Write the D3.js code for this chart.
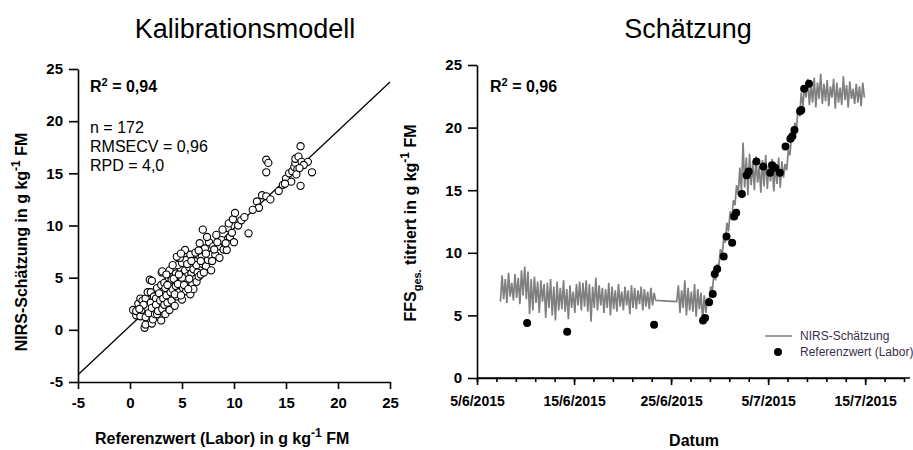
<!DOCTYPE html>
<html lang="de">
<head>
    <meta charset="UTF-8">
    <title>Kalibrationsmodell und Schätzung</title>
    <script src="https://d3js.org/d3.v7.min.js"></script>
    <style>
        body { margin: 0; background: #fff; }
        svg { display: block; font-family: "Liberation Sans", Arial, sans-serif; }
        .title { font-size: 27px; text-anchor: middle; fill: #000; }
        .axis path, .axis line { stroke: #000; stroke-width: 1.6px; }
        .axis text { font-size: 15px; font-weight: bold; fill: #000; font-family: "Liberation Sans", Arial, sans-serif; }
        .alabel { font-size: 16px; font-weight: bold; fill: #000; }
        .note { font-size: 16px; fill: #000; }
        .legend { font-size: 12px; fill: #3b3049; }
    </style>
</head>
<body>
<svg width="913" height="450"></svg>
<script>
    // --- Kalibrationsmodell: Referenzwert (Labor) vs. NIRS-Schätzung, n = 172
    const refX = [
        0.3,0.6,0.6,0.8,1.0,1.0,1.1,1.2,1.4,1.5,1.5,1.5,1.6,1.7,1.8,1.9,2.0,2.0,2.1,2.1,
        2.1,2.2,2.3,2.4,2.5,2.5,2.6,2.6,2.7,2.8,2.9,3.0,3.0,3.05,3.1,3.1,3.2,3.3,3.3,3.4,
        3.4,3.5,3.6,3.7,3.8,3.9,4.0,4.0,1.3,0.9,
        4.1,4.2,4.3,4.4,4.4,4.5,4.6,4.7,4.8,4.9,5.0,5.0,5.1,5.2,5.3,5.3,5.4,5.4,5.5,5.6,
        5.7,5.8,5.9,6.0,6.0,6.1,6.2,6.3,6.4,6.5,4.2,4.6,4.8,5.0,5.2,5.5,5.7,5.8,6.1,6.4,
        4.3,4.9,5.6,3.6,3.8,4.5,4.7,5.9,6.3,6.6,3.5,4.1,4.9,
        6.7,6.8,6.9,7.0,7.0,7.2,7.3,7.5,7.6,7.7,7.8,8.0,8.2,8.3,8.5,8.6,8.8,9.0,9.3,9.4,
        9.5,9.6,9.8,10.0,6.8,7.1,7.4,7.9,8.1,8.9,9.2,6.6,7.3,8.4,9.9,
        10.1,10.4,10.7,11.0,11.4,12.2,12.4,12.7,13.1,13.5,13.1,13.1,13.3,11.8,
        14.3,14.7,15.0,15.3,15.6,15.8,15.9,15.9,16.1,16.2,16.4,16.4,16.5,17.1,17.5,16.0,15.5,16.7,14.9,16.3
    ];
    const nirsY = [
        1.9,1.4,1.8,2.5,1.3,3.0,1.9,2.8,0.2,0.5,3.0,1.2,2.2,3.6,1.6,4.8,3.6,2.6,0.6,2.1,
        4.7,1.0,3.2,1.5,3.0,2.4,1.5,4.0,1.8,3.5,2.8,0.9,4.3,5.5,5.6,2.0,3.0,2.4,4.5,1.5,
        4.0,3.3,2.6,5.0,1.9,3.6,2.8,4.8,2.4,2.0,
        3.9,5.8,2.3,4.2,5.4,3.2,6.2,3.6,4.6,5.1,2.9,6.4,4.0,5.5,5.7,7.65,3.7,6.7,4.7,5.2,
        6.0,3.4,5.4,4.4,7.0,5.8,6.6,4.9,6.2,5.5,4.9,4.4,6.9,5.0,4.3,6.3,4.9,7.2,3.9,4.6,
        3.4,3.3,3.9,4.3,5.7,7.0,5.3,6.6,7.4,5.1,5.3,6.2,7.3,
        8.3,5.3,7.0,9.6,6.3,7.8,6.1,6.7,8.4,7.2,5.7,8.0,7.2,9.1,8.0,6.9,8.6,7.7,7.65,9.75,
        10.2,8.9,9.3,8.4,6.6,5.5,8.9,6.6,7.7,9.6,8.3,7.6,7.3,8.4,10.6,
        11.2,10.0,10.5,10.8,9.25,12.3,11.7,12.9,12.8,12.5,16.3,15.1,16.0,11.5,
        13.3,13.9,14.5,15.0,15.2,15.6,16.0,16.4,15.4,16.6,17.6,13.8,16.1,16.1,15.1,14.9,14.2,15.8,14.0,15.5
    ];
    // Regressionsgerade (Endpunkte)
    const fitX = [-5, 25];
    const fitY = [-4.3, 23.75];
    const leftTicks = [-5, 0, 5, 10, 15, 20, 25];

    // --- Schätzung: NIRS-Zeitreihe (4-h-Werte) und Referenzwerte
    const nirsStart1 = "2015-06-07T10:00";
    const nirsVals1 = [
        6.1,8.2,6.3,7.9,6.0,8.4,6.5,7.6,6.2,8.3,
        6.4,8.0,5.9,8.6,6.6,8.9,6.3,8.5,5.1,
        7.9,5.4,8.1,6.0,7.7,5.2,7.8,6.1,7.5,
        4.8,7.6,5.6,7.9,5.0,7.3,4.6,7.7,5.4,7.2,5.5,7.8,
        5.3,7.1,4.7,7.4,5.6,6.9,5.2,7.5,5.8,7.7,5.4,7.6,
        5.7,7.8,5.3,7.5,4.5,7.3,5.6,8.0,5.4,7.4,5.8,7.2,
        5.2,7.1,5.6,7.6,5.0,7.3,5.5,7.0,5.3,7.5,5.7,6.9,
        5.4,7.3,5.8,7.0,5.1,7.4,5.6,7.2,5.5,7.0,5.9,7.3,
        5.4,7.1,5.7,6.9,5.5,7.2,5.8,6.8,6.2
    ];
    const nirsStart2 = "2015-06-25T14:00";
    const nirsVals2 = [
        6.1,7.4,5.2,7.0,5.6,7.8,5.0,7.2,5.4,6.9,5.3,7.5,4.9,7.1,5.5,6.8,4.6,6.6,
        5.2,6.4,6.0,7.3,6.9,8.4,7.8,9.1,8.9,10.3,9.6,11.2,10.8,12.4,11.7,13.3,12.6,14.2,13.8,15.4,14.6,
        16.8,14.9,18.8,15.2,17.6,14.6,17.9,15.4,17.3,15.0,17.7,15.6,16.9,14.8,17.4,15.3,17.8,15.1,17.2,15.7,
        17.5,14.9,17.0,15.5,17.6,15.2,17.3,16.0,17.1,
        16.6,18.2,17.8,19.5,18.9,20.4,19.8,21.6,20.9,22.8,21.7,23.2,22.4,
        23.9,21.8,23.4,22.0,24.0,21.6,23.6,22.3,24.3,21.9,23.5,22.1,23.8,21.7,23.3,22.4,23.9,21.5,
        23.6,22.0,23.2,21.8,24.1,22.2,23.4,21.6,23.7,22.3,23.1,21.9,23.5,22.0,23.3,21.7,23.6,22.4
    ];
    const labDates = [
        "2015-06-10T04:00","2015-06-14T07:00","2015-06-23T06:00",
        "2015-06-28T07:00","2015-06-28T12:00","2015-06-28T22:00","2015-06-29T07:00","2015-06-29T12:00",
        "2015-06-29T18:00","2015-06-30T10:00","2015-06-30T17:00","2015-07-01T07:00","2015-07-01T12:00",
        "2015-07-01T17:00","2015-07-02T07:00","2015-07-02T19:00","2015-07-03T00:00","2015-07-03T19:00",
        "2015-07-04T12:00","2015-07-05T05:00","2015-07-05T10:00","2015-07-05T17:00","2015-07-06T05:00",
        "2015-07-06T19:00","2015-07-07T07:00","2015-07-07T12:00","2015-07-07T17:00","2015-07-08T07:00",
        "2015-07-08T10:00","2015-07-08T17:00","2015-07-09T05:00"
    ];
    const labVals = [
        4.4,3.7,4.25,
        4.6,4.8,6.05,6.7,8.3,
        8.7,9.7,11.3,10.8,12.9,
        13.2,14.7,16.2,16.5,17.3,
        16.9,16.4,17.0,16.8,16.4,
        18.5,19.1,19.3,19.8,21.3,
        21.4,23.1,23.5
    ];
    const rightTicks = [0, 5, 10, 15, 20, 25];

    const svg = d3.select("svg");
    const parse = d3.timeParse("%Y-%m-%dT%H:%M");
    const H4 = 4 * 3600 * 1000;
    const plain = d => String(d);   // Bindestrich statt Minuszeichen

    // ================= linkes Diagramm =================
    const xL = d3.scaleLinear().domain([-5, 25]).range([78, 390]);
    const yL = d3.scaleLinear().domain([-5, 25]).range([382, 69]);

    svg.append("text").attr("class", "title").attr("x", 245).attr("y", 38).text("Kalibrationsmodell");

    svg.append("g").attr("class", "axis").attr("transform", "translate(0,382)")
        .call(d3.axisBottom(xL).tickValues(leftTicks).tickFormat(plain).tickSize(7).tickSizeOuter(0).tickPadding(8));
    svg.append("g").attr("class", "axis").attr("transform", "translate(78,0)")
        .call(d3.axisLeft(yL).tickValues(leftTicks).tickFormat(plain).tickSize(9).tickSizeOuter(0).tickPadding(6));

    svg.append("line")
        .attr("x1", xL(fitX[0])).attr("y1", yL(fitY[0]))
        .attr("x2", xL(fitX[1])).attr("y2", yL(fitY[1]))
        .attr("stroke", "#000").attr("stroke-width", 1.3);

    svg.append("g").selectAll("circle")
        .data(refX.map((x, i) => [x, nirsY[i]]))
        .join("circle")
        .attr("cx", d => xL(d[0])).attr("cy", d => yL(d[1]))
        .attr("r", 3.6).attr("fill", "#fff").attr("stroke", "#000").attr("stroke-width", 1.1);

    const r2L = svg.append("text").attr("class", "alabel").attr("x", 90).attr("y", 92);
    r2L.append("tspan").text("R");
    r2L.append("tspan").attr("dy", -6).attr("font-size", 11).text("2");
    r2L.append("tspan").attr("dy", 6).text(" = 0,94");

    ["n = 172", "RMSECV = 0,96", "RPD = 4,0"].forEach((t, i) => {
        svg.append("text").attr("class", "note").attr("x", 90).attr("y", 133 + i * 19).text(t);
    });

    const xlab = svg.append("text").attr("class", "alabel").attr("x", 95).attr("y", 444);
    xlab.append("tspan").text("Referenzwert (Labor) in g kg");
    xlab.append("tspan").attr("dy", -7).attr("font-size", 12).text("-1");
    xlab.append("tspan").attr("dy", 7).text(" FM");

    const ylab = svg.append("text").attr("class", "alabel")
        .attr("transform", "translate(27,242) rotate(-90)").attr("text-anchor", "middle");
    ylab.append("tspan").text("NIRS-Schätzung in g kg");
    ylab.append("tspan").attr("dy", -7).attr("font-size", 12).text("-1");
    ylab.append("tspan").attr("dy", 7).text(" FM");

    // ================= rechtes Diagramm =================
    const xR = d3.scaleTime().domain([new Date(2015, 5, 5), new Date(2015, 6, 19)]).range([477, 904]);
    const yR = d3.scaleLinear().domain([0, 25]).range([378, 65]);

    svg.append("text").attr("class", "title").attr("x", 688).attr("y", 38).text("Schätzung");

    const majorDates = d3.timeDay.range(new Date(2015, 5, 5), new Date(2015, 6, 20), 10);
    const minorDates = d3.timeDay.range(new Date(2015, 5, 5), new Date(2015, 6, 20), 2);

    svg.append("g").attr("class", "axis").attr("transform", "translate(0,378)")
        .call(d3.axisBottom(xR).tickValues(minorDates).tickSize(4).tickSizeOuter(0).tickFormat(""));
    const xAxR = svg.append("g").attr("class", "axis").attr("transform", "translate(0,378)")
        .call(d3.axisBottom(xR).tickValues(majorDates).tickSize(7).tickSizeOuter(0).tickPadding(11)
            .tickFormat(d3.timeFormat("%-d/%-m/%Y")));
    xAxR.select(".domain").attr("d", "M477,0H910");
    xAxR.selectAll("text").style("font-size", "14px");

    svg.append("g").attr("class", "axis").attr("transform", "translate(477,0)")
        .call(d3.axisLeft(yR).tickValues(rightTicks).tickFormat(plain).tickSize(9).tickSizeOuter(0).tickPadding(6));

    const series = nirsVals1.map((v, i) => [new Date(parse(nirsStart1).getTime() + i * H4), v])
        .concat(nirsVals2.map((v, i) => [new Date(parse(nirsStart2).getTime() + i * H4), v]));

    svg.append("path")
        .datum(series)
        .attr("fill", "none").attr("stroke", "#808080").attr("stroke-width", 1.7)
        .attr("stroke-linejoin", "bevel")
        .attr("d", d3.line().x(d => xR(d[0])).y(d => yR(d[1])));

    svg.append("g").selectAll("circle")
        .data(labDates.map((d, i) => [parse(d), labVals[i]]))
        .join("circle")
        .attr("cx", d => xR(d[0])).attr("cy", d => yR(d[1]))
        .attr("r", 4).attr("fill", "#000");

    const r2R = svg.append("text").attr("class", "alabel").attr("x", 490).attr("y", 92);
    r2R.append("tspan").text("R");
    r2R.append("tspan").attr("dy", -6).attr("font-size", 11).text("2");
    r2R.append("tspan").attr("dy", 6).text(" = 0,96");

    // Legende
    svg.append("line").attr("x1", 765).attr("x2", 792).attr("y1", 336).attr("y2", 336)
        .attr("stroke", "#808080").attr("stroke-width", 1.5);
    svg.append("text").attr("class", "legend").attr("x", 800).attr("y", 340).text("NIRS-Schätzung");
    svg.append("circle").attr("cx", 778).attr("cy", 352).attr("r", 4).attr("fill", "#000");
    svg.append("text").attr("class", "legend").attr("x", 800).attr("y", 356).text("Referenzwert (Labor)");

    svg.append("text").attr("class", "alabel").attr("x", 694).attr("y", 446)
        .attr("text-anchor", "middle").text("Datum");

    const ylabR = svg.append("text").attr("class", "alabel")
        .attr("transform", "translate(416,223) rotate(-90)").attr("text-anchor", "middle");
    ylabR.append("tspan").text("FFS");
    ylabR.append("tspan").attr("dy", 5).attr("font-size", 11).text("ges.");
    ylabR.append("tspan").attr("dy", -5).text(" titriert in g kg");
    ylabR.append("tspan").attr("dy", -7).attr("font-size", 12).text("-1");
    ylabR.append("tspan").attr("dy", 7).text(" FM");
</script>
</body>
</html>
